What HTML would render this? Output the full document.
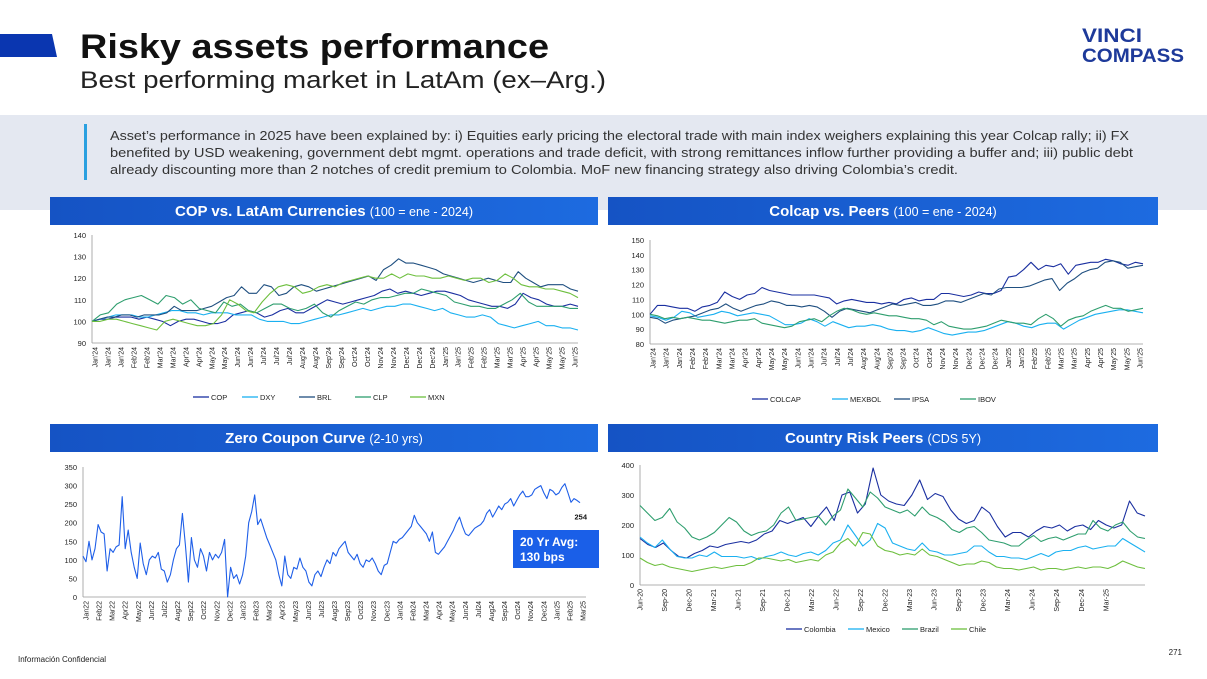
<!DOCTYPE html>
<html><head><meta charset="utf-8"><style>
html,body{margin:0;padding:0;background:#fff;}
svg{display:block;font-family:"Liberation Sans",sans-serif;}
</style></head><body>
<svg id="s" width="1207" height="679" viewBox="0 0 1207 679" xmlns="http://www.w3.org/2000/svg">
<defs><linearGradient id="hg" x1="0" x2="1"><stop offset="0" stop-color="#1553c4"/><stop offset="1" stop-color="#1d6be0"/></linearGradient></defs>
<polygon points="0,34 52,34 57,57 0,57" fill="#0a36b0"/>
<text x="80" y="58" font-size="34" font-weight="bold" fill="#111" textLength="469" lengthAdjust="spacingAndGlyphs">Risky assets performance</text>
<text x="80" y="88" font-size="24" fill="#222" textLength="526" lengthAdjust="spacingAndGlyphs">Best performing market in LatAm (ex–Arg.)</text>
<g fill="#1e3a9a" font-weight="bold" font-size="19">
<text x="1082" y="42" textLength="60" lengthAdjust="spacingAndGlyphs">VINCI</text>
<text x="1082" y="62" textLength="102" lengthAdjust="spacingAndGlyphs">COMPASS</text></g>
<rect x="0" y="115" width="1207" height="95" fill="#e4e8f1"/>
<rect x="84" y="124" width="3" height="56" fill="#2aa0e0"/>
<g font-size="12.5" fill="#333">
<text x="110" y="140" textLength="1019" lengthAdjust="spacingAndGlyphs">Asset’s performance in 2025 have been explained by: i) Equities early pricing the electoral trade with main index weighers explaining this year Colcap rally; ii) FX</text>
<text x="110" y="157" textLength="1023" lengthAdjust="spacingAndGlyphs">benefited by USD weakening, government debt mgmt. operations and trade deficit, with strong remittances inflow further providing a buffer and; iii) public debt</text>
<text x="110" y="174" textLength="848" lengthAdjust="spacingAndGlyphs">already discounting more than 2 notches of credit premium to Colombia. MoF new financing strategy also driving Colombia’s credit.</text></g>
<g fill="url(#hg)">
<rect x="50" y="197" width="548" height="28"/>
<rect x="608" y="197" width="550" height="28"/>
<rect x="50" y="424" width="548" height="28"/>
<rect x="608" y="424" width="550" height="28"/></g>
<g fill="#fff" text-anchor="middle">
<text x="324" y="216" font-size="15" font-weight="bold">COP vs. LatAm Currencies <tspan font-size="12.5" font-weight="normal">(100 = ene - 2024)</tspan></text>
<text x="883" y="216" font-size="15" font-weight="bold">Colcap vs. Peers <tspan font-size="12.5" font-weight="normal">(100 = ene - 2024)</tspan></text>
<text x="324" y="443" font-size="15" font-weight="bold">Zero Coupon Curve <tspan font-size="12.5" font-weight="normal">(2-10 yrs)</tspan></text>
<text x="883" y="443" font-size="15" font-weight="bold">Country Risk Peers <tspan font-size="12.5" font-weight="normal">(CDS 5Y)</tspan></text></g>
<text x="18" y="662" font-size="8" fill="#222">Información Confidencial</text>
<text x="1182" y="655" font-size="8" fill="#222" text-anchor="end">271</text>
<g id="charts"></g>
</svg>
<script>
const fxLabels=["Jan'24","Jan'24","Jan'24","Feb'24","Feb'24","Mar'24","Mar'24","Apr'24","Apr'24","May'24","May'24","Jun'24","Jun'24","Jul'24","Jul'24","Jul'24","Aug'24","Aug'24","Sep'24","Sep'24","Oct'24","Oct'24","Nov'24","Nov'24","Dec'24","Dec'24","Dec'24","Jan'25","Jan'25","Feb'25","Feb'25","Mar'25","Mar'25","Apr'25","Apr'25","May'25","May'25","Jun'25"];
const fxTicks=[90,100,110,120,130,140];
const copVals=[100,101,101,102,102,102,101,102,101,100,98,100,101,101,100,99,99,100,103,104,105,104,102,103,105,106,104,104,106,108,110,109,108,109,110,111,112,114,115,113,114,113,112,113,114,114,113,112,110,109,108,107,107,106,108,113,111,110,108,107,107,108,107];
const dxyVals=[100,101,102,103,103,103,102,102,103,104,105,105,104,104,103,104,104,104,103,103,103,101,100,100,100,99,99,100,101,102,103,103,104,105,106,105,106,107,107,108,108,107,106,105,106,104,103,102,102,103,102,99,98,97,98,99,100,98,98,97,97,96];
const brlVals=[100,101,102,102,103,103,102,103,103,103,104,107,105,105,105,106,107,109,111,112,116,113,113,117,116,112,113,116,117,116,114,115,116,117,118,119,120,121,119,124,126,129,127,127,126,125,124,122,121,120,119,118,119,120,119,118,118,123,120,118,116,117,117,117,115,114];
const clpVals=[100,103,104,108,110,111,112,110,108,112,111,108,110,106,105,104,109,107,108,105,104,106,108,108,106,105,106,108,104,102,105,107,109,108,110,111,111,112,113,113,115,114,113,112,109,108,107,107,106,106,108,110,113,109,107,107,107,107,106,106];
const mxnVals=[100,100,101,101,100,99,98,97,96,100,101,100,99,98,98,99,103,110,108,105,104,109,113,116,117,116,113,114,116,117,116,118,119,120,121,120,120,122,120,122,121,121,120,120,121,120,119,120,120,118,119,122,120,117,116,116,115,115,114,113,111];
const eqTicks=[80,90,100,110,120,130,140,150];
const colcapVals=[100,106,106,105,104,104,102,105,106,108,115,112,110,113,114,118,116,115,114,113,113,113,113,112,111,107,109,110,109,108,108,107,108,107,110,111,109,110,110,114,114,113,112,113,115,114,114,116,125,126,130,135,130,133,132,134,127,133,134,135,135,137,136,134,133,135,134];
const mexbolVals=[99,98,96,98,102,101,98,99,100,102,101,99,100,101,100,99,96,93,93,94,97,95,92,95,93,91,92,92,93,92,90,89,89,88,89,91,89,87,86,87,88,88,89,91,93,95,94,92,91,93,94,94,90,93,96,98,100,101,102,103,103,102,101];
const ipsaVals=[98,97,94,96,97,98,99,101,103,104,107,104,102,104,106,107,109,108,106,106,105,106,105,102,98,102,104,103,102,101,103,105,107,106,107,108,106,106,107,109,109,108,110,112,114,113,117,118,118,118,119,121,123,124,116,121,124,128,130,131,135,136,135,131,132,133];
const ibovVals=[100,99,97,98,97,98,97,96,96,95,94,95,96,96,97,94,93,92,91,92,95,96,97,95,99,102,104,103,101,100,101,100,99,99,98,97,97,96,93,95,92,91,90,90,91,92,94,96,95,94,94,93,97,100,97,92,96,98,99,102,104,106,104,104,102,103,104];
const zcLabels=["Jan22","Feb22","Mar22","Apr22","May22","Jun22","Jul22","Aug22","Sep22","Oct22","Nov22","Dec22","Jan23","Feb23","Mar23","Apr23","May23","Jun23","Jul23","Aug23","Sep23","Oct23","Nov23","Dec23","Jan24","Feb24","Mar24","Apr24","May24","Jun24","Jul24","Aug24","Sep24","Oct24","Nov24","Dec24","Jan25","Feb25","Mar25"];
const zcTicks=[0,50,100,150,200,250,300,350];
const zcVals=[110,95,150,100,130,195,175,170,70,130,120,135,140,270,130,180,120,80,50,145,90,60,100,110,105,120,75,70,40,60,100,130,140,225,140,40,160,100,80,130,110,70,120,100,115,105,120,155,0,80,50,60,35,60,110,200,230,275,195,210,185,160,140,120,100,60,30,110,60,50,80,75,105,80,70,40,30,60,70,55,80,100,90,120,110,130,140,150,120,110,100,115,90,80,100,95,105,90,70,60,85,90,120,150,145,155,160,170,180,190,220,200,190,180,170,150,175,120,115,125,135,150,165,180,200,215,190,170,165,175,185,190,195,205,225,235,215,230,245,235,250,255,265,245,260,275,285,270,270,275,290,295,300,280,265,290,285,275,280,295,305,280,255,265,260,254];
const cdsLabels=["Jun-20","Sep-20","Dec-20","Mar-21","Jun-21","Sep-21","Dec-21","Mar-22","Jun-22","Sep-22","Dec-22","Mar-23","Jun-23","Sep-23","Dec-23","Mar-24","Jun-24","Sep-24","Dec-24","Mar-25"];
const cdsTicks=[0,100,200,300,400];
const colombiaVals=[155,135,125,140,115,95,90,105,115,130,125,135,140,145,140,150,170,180,215,205,215,225,195,230,260,215,300,310,240,270,390,300,280,270,265,300,350,285,305,295,250,220,205,215,260,240,195,160,175,175,160,180,195,190,200,180,195,200,185,215,200,190,200,280,240,230];
const mexicoVals=[160,140,125,150,120,95,90,90,100,95,110,95,95,95,90,95,85,95,100,110,100,95,105,110,100,115,140,150,200,165,130,150,205,190,140,130,120,115,140,115,110,100,100,105,110,130,130,110,95,95,90,90,85,95,105,95,110,115,115,125,130,120,125,130,130,155,140,125,110];
const brazilVals=[265,240,215,225,255,210,190,160,150,160,175,200,225,210,180,165,175,180,200,240,260,215,220,225,230,200,230,250,320,290,260,310,290,260,250,240,250,230,260,235,225,210,185,175,190,195,175,150,145,140,130,130,150,165,145,155,160,150,160,170,170,215,190,180,200,210,180,160,155];
const chileVals=[90,75,65,70,60,55,50,45,50,55,60,55,60,65,65,75,90,90,85,80,85,75,80,85,80,100,110,140,155,130,175,170,130,115,110,100,105,100,120,100,95,85,75,65,70,70,80,75,60,55,55,50,55,60,50,55,55,50,55,60,55,60,60,55,65,80,70,60,55];

const NS="http://www.w3.org/2000/svg";
const root=document.getElementById('charts');
function mk(tag,attrs,parent){const e=document.createElementNS(NS,tag);for(const k in attrs)e.setAttribute(k,attrs[k]);(parent||root).appendChild(e);return e;}
function chart(cfg){
  const g=mk('g',{});
  
  
  const {x0,x1,y0,y1,vmin,vmax}=cfg;
  const ys=v=>y1-(v-vmin)/(vmax-vmin)*(y1-y0);
  const l1=mk('line',{x1:x0,y1:y0,x2:x0,y2:y1,stroke:'#999','stroke-width':0.8},g);
  
  
  const l2=mk('line',{x1:x0,y1:y1,x2:x1,y2:y1,stroke:'#999','stroke-width':0.8},g);
  
  
  cfg.ticks.forEach(t=>{const e=mk('text',{x:x0-6,y:ys(t)+3,'font-size':7.5,'text-anchor':'end',fill:'#222'},g);e.textContent=t;
    
    });
  const n=cfg.labels.length;
  cfg.labels.forEach((lb,i)=>{const px=cfg.lx?cfg.lx(i):x0+3+(x1-x0-6)*i/(n-1);
    const e=mk('text',{x:0,y:0,'font-size':7,'text-anchor':'end',fill:'#222',transform:`translate(${px+2.5},${y1+4}) rotate(-90)`},g);e.textContent=lb;
    
    });
  cfg.series.forEach(s=>{const m=s.vals.length;const xe=s.xend||x1;
    const pts=s.vals.map((v,i)=>`${(x0+(xe-x0)*i/(m-1)).toFixed(1)},${ys(v).toFixed(1)}`).join(' ');
    const p=mk('polyline',{points:pts,fill:'none',stroke:s.color,'stroke-width':1.1,'stroke-linejoin':'round'},g);
    
    
    if(s.lx!==undefined){mk('line',{x1:s.lx,y1:cfg.ly,x2:s.lx+16,y2:cfg.ly,stroke:s.color,'stroke-width':1.3},g);
      const t=mk('text',{x:s.lx+18,y:cfg.ly+3,'font-size':7.5,fill:'#222'},g);t.textContent=s.label;
      
      }
  });
  return ys;
}
chart({name:'fx-chart',x0:92,x1:578,y0:235,y1:343,vmin:90,vmax:140,ticks:fxTicks,labels:fxLabels,ly:397,series:[
 {key:'cop',label:'COP',vals:copVals,color:'#1a2fa0',lx:193},
 {key:'dxy',label:'DXY',vals:dxyVals,color:'#1ab0f0',lx:242},
 {key:'brl',label:'BRL',vals:brlVals,color:'#1f4f80',lx:299},
 {key:'clp',label:'CLP',vals:clpVals,color:'#2e9e6e',lx:355},
 {key:'mxn',label:'MXN',vals:mxnVals,color:'#6dbf3e',lx:410}]});
chart({name:'equity-chart',x0:650,x1:1143,y0:240,y1:344,vmin:80,vmax:150,ticks:eqTicks,labels:fxLabels,ly:399,series:[
 {key:'colcap',label:'COLCAP',vals:colcapVals,color:'#1a2fa0',lx:752},
 {key:'mexbol',label:'MEXBOL',vals:mexbolVals,color:'#1ab0f0',lx:832},
 {key:'ipsa',label:'IPSA',vals:ipsaVals,color:'#1f4f80',lx:894},
 {key:'ibov',label:'IBOV',vals:ibovVals,color:'#2e9e6e',lx:960}]});
const zys=chart({name:'zero-coupon-chart',x0:83,x1:586,y0:467,y1:597,vmin:0,vmax:350,ticks:zcTicks,labels:zcLabels,series:[
 {key:'zero-coupon',vals:zcVals,color:'#1f5fe8',xend:580}]});
chart({name:'cds-chart',x0:640,x1:1145,y0:465,y1:585,vmin:0,vmax:400,ticks:cdsTicks,labels:cdsLabels,lx:i=>640+i*(1145-640)/20.6,ly:629,series:[
 {key:'colombia',label:'Colombia',vals:colombiaVals,color:'#1a2fa0',lx:786},
 {key:'mexico',label:'Mexico',vals:mexicoVals,color:'#1ab0f0',lx:848},
 {key:'brazil',label:'Brazil',vals:brazilVals,color:'#2e9e6e',lx:902},
 {key:'chile',label:'Chile',vals:chileVals,color:'#6dbf3e',lx:951}]});
const last=mk('text',{x:587,y:zys(zcVals[zcVals.length-1])+17,'font-size':7.5,'font-weight':'bold','text-anchor':'end',fill:'#111'});
last.textContent=zcVals[zcVals.length-1];


const box=mk('rect',{x:513,y:530,width:86,height:38,fill:'#1a5fe8'});


const bt1=mk('text',{x:520,y:546,'font-size':12,'font-weight':'bold',fill:'#fff'});bt1.textContent='20 Yr Avg:';


const bt2=mk('text',{x:520,y:561,'font-size':12,'font-weight':'bold',fill:'#fff'});bt2.textContent='130 bps';


</script>
</body></html>
